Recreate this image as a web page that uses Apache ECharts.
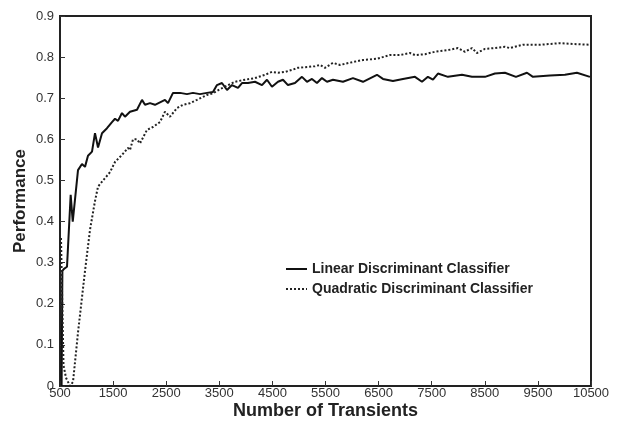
<!DOCTYPE html>
<html>
<head>
<meta charset="utf-8">
<script src="https://cdn.jsdelivr.net/npm/echarts@6/dist/echarts.min.js"></script>
<style>html,body{margin:0;padding:0;background:#fff}#c{width:618px;height:422px}</style>
</head>
<body>
<div id="c"></div>
<script>
const xTicks = [500,1500,2500,3500,4500,5500,6500,7500,8500,9500,10500];
const yTicks = [0,0.1,0.2,0.3,0.4,0.5,0.6,0.7,0.8,0.9];

const linearX = [530,545,575,632,701,740,839,914,971,1027,1103,1159,1216,1291,1385,1479,1536,1592,1667,1724,1818,1950,2044,2101,2195,2289,2383,2477,2534,2628,2760,2891,3004,3136,3268,3381,3456,3550,3645,3739,3852,3927,4040,4172,4304,4398,4492,4605,4699,4793,4925,5057,5151,5245,5339,5433,5528,5641,5829,6017,6206,6469,6582,6770,6959,7185,7317,7429,7524,7618,7806,8070,8258,8503,8691,8879,9087,9294,9407,9727,10009,10235,10480];
const linearY = [0.0,0.28,0.285,0.29,0.465,0.40,0.525,0.54,0.533,0.56,0.57,0.615,0.58,0.615,0.627,0.642,0.65,0.645,0.664,0.655,0.667,0.672,0.696,0.684,0.688,0.684,0.69,0.696,0.688,0.713,0.713,0.71,0.713,0.71,0.713,0.715,0.732,0.737,0.72,0.732,0.725,0.737,0.737,0.74,0.732,0.745,0.728,0.74,0.745,0.732,0.737,0.752,0.74,0.747,0.737,0.749,0.74,0.745,0.74,0.749,0.74,0.757,0.747,0.742,0.747,0.752,0.74,0.752,0.745,0.76,0.752,0.757,0.752,0.752,0.76,0.762,0.752,0.762,0.752,0.755,0.757,0.762,0.752];

const quadX = [519,566,613,688,745,839,971,1065,1159,1216,1310,1442,1536,1667,1780,1818,1875,1950,2006,2138,2251,2383,2477,2571,2703,2816,2948,3080,3268,3381,3513,3607,3795,3984,4172,4360,4492,4605,4737,4869,4982,5170,5302,5396,5490,5641,5772,6017,6206,6469,6714,6902,7090,7185,7373,7561,7806,7994,8126,8258,8352,8503,8691,8879,8973,9218,9538,9915,10160,10480];
const quadY = [0.36,0.05,0.02,0.0,0.01,0.13,0.28,0.38,0.45,0.485,0.50,0.52,0.545,0.562,0.579,0.574,0.60,0.60,0.59,0.623,0.63,0.642,0.667,0.655,0.676,0.684,0.688,0.696,0.708,0.712,0.722,0.728,0.74,0.745,0.749,0.757,0.764,0.762,0.764,0.769,0.774,0.776,0.778,0.781,0.774,0.786,0.781,0.788,0.793,0.796,0.805,0.805,0.81,0.805,0.807,0.813,0.817,0.822,0.813,0.822,0.81,0.82,0.822,0.825,0.822,0.83,0.83,0.834,0.832,0.83];

const seriesNames = ['Linear Discriminant Classifier','Quadratic Discriminant Classifier'];

const chart = echarts.init(document.getElementById('c'), null, {renderer:'canvas'});
const font = 'Liberation Sans, Arial, sans-serif';
chart.setOption({
  animation: false,
  backgroundColor: '#fff',
  grid: {left: 60, right: 27, top: 16, bottom: 36, outerBoundsMode: 'none', containLabel: false,
         show: true, borderColor: '#222', borderWidth: 2},
  legend: {
    left: 280, top: 257, orient: 'vertical', itemGap: 6, itemWidth: 21, itemHeight: 14,
    itemStyle: {opacity: 0},
    textStyle: {fontFamily: font, fontWeight: 'bold', fontSize: 14, color: '#222'},
    data: seriesNames
  },
  xAxis: {
    type: 'value', min: 500, max: 10500,
    name: 'Number of Transients', nameLocation: 'middle', nameGap: 16, nameMoveOverlap: false,
    nameTextStyle: {fontFamily: font, fontWeight: 'bold', fontSize: 18, color: '#222'},
    axisLine: {show: true, lineStyle: {color: '#222', width: 2}},
    axisTick: {show: true, inside: true, length: 5, customValues: xTicks, lineStyle: {color: '#333'}},
    axisLabel: {customValues: xTicks, margin: 1, fontFamily: font, fontSize: 13, color: '#333',
      formatter: v => String(v)},
    splitLine: {show: false}
  },
  yAxis: {
    type: 'value', min: 0, max: 0.9, interval: 0.1,
    name: 'Performance', nameLocation: 'middle', nameGap: 31, nameMoveOverlap: false,
    nameTextStyle: {fontFamily: font, fontWeight: 'bold', fontSize: 17, color: '#222'},
    axisLine: {show: true, lineStyle: {color: '#222', width: 2}},
    axisTick: {show: true, inside: true, length: 5, lineStyle: {color: '#333'}},
    axisLabel: {margin: 6, fontFamily: font, fontSize: 13, color: '#333',
      formatter: v => { const t = yTicks.find(a => Math.abs(a - v) < 1e-9); return t === 0 ? '0' : (t !== undefined ? t.toFixed(1) : ''); }},
    splitLine: {show: false}
  },
  series: [
    {name: seriesNames[0], type: 'line', showSymbol: false, symbol: 'none',
     data: linearX.map((x, i) => [x, linearY[i]]),
     lineStyle: {color: '#111', width: 2, type: 'solid'}, itemStyle: {color: '#111'}},
    {name: seriesNames[1], type: 'line', showSymbol: false, symbol: 'none',
     data: quadX.map((x, i) => [x, quadY[i]]),
     lineStyle: {color: '#222', width: 2, type: [2, 2]}, itemStyle: {color: '#222'}}
  ]
});
</script>
</body>
</html>
